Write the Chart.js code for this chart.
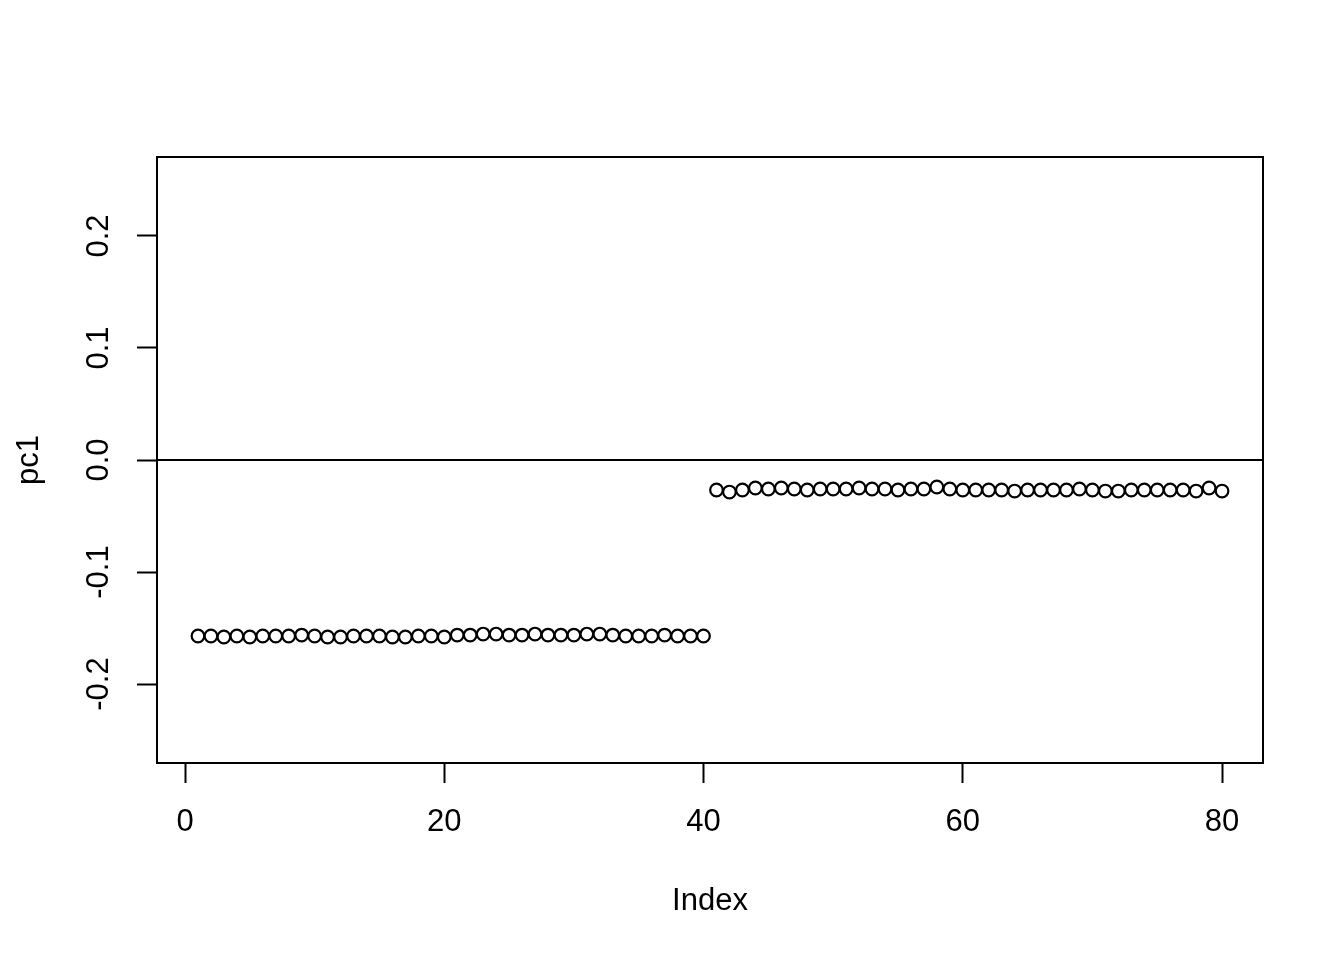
<!DOCTYPE html>
<html lang="en">
<head>
  <meta charset="UTF-8" />
  <title>pc1 by Index</title>
  <style>
    body {
      margin: 0;
      background: #ffffff;
    }

    #chart {
      position: absolute;
      top: 0;
      left: 0;
    }
  </style>
</head>
<body>
  <canvas id="chart" width="1344" height="960"></canvas>

  <script src="https://cdn.jsdelivr.net/npm/chart.js"></script>
  <script>
    const pc1First = [
      -0.1571, -0.1571, -0.1580, -0.1571, -0.1580, -0.1571, -0.1571, -0.1571, -0.1563, -0.1571,
      -0.1580, -0.1580, -0.1571, -0.1571, -0.1571, -0.1580, -0.1580, -0.1571, -0.1571, -0.1580,
      -0.1563, -0.1563, -0.1554, -0.1554, -0.1563, -0.1563, -0.1554, -0.1563, -0.1563, -0.1563,
      -0.1554, -0.1554, -0.1563, -0.1571, -0.1571, -0.1571, -0.1563, -0.1571, -0.1571, -0.1571
    ];
    const pc1Second = [
      -0.0268, -0.0286, -0.0268, -0.0250, -0.0259, -0.0250, -0.0259, -0.0268, -0.0259, -0.0259,
      -0.0259, -0.0250, -0.0259, -0.0259, -0.0268, -0.0259, -0.0259, -0.0241, -0.0259, -0.0268,
      -0.0268, -0.0268, -0.0268, -0.0277, -0.0268, -0.0268, -0.0268, -0.0268, -0.0259, -0.0268,
      -0.0277, -0.0277, -0.0268, -0.0268, -0.0268, -0.0268, -0.0268, -0.0277, -0.0250, -0.0277
    ];
    const pc1 = pc1First.concat(pc1Second);

    const xTicks = [0, 20, 40, 60, 80];
    const yTicks = [-0.2, -0.1, 0.0, 0.1, 0.2];
    const xRange = [-2.16, 83.16];
    const yRange = [-0.2705, 0.2705];
    const refLine = 0;

    const FONT = "'Liberation Sans', Arial, Helvetica, sans-serif";

    // box around the plot region + abline(h = 0)
    const framePlugin = {
      id: 'frame',
      afterDatasetsDraw(chart) {
        const { ctx, chartArea: a, scales } = chart;
        ctx.save();
        ctx.strokeStyle = '#000';
        ctx.lineWidth = 2;
        const y0 = Math.round(scales.y.getPixelForValue(refLine));
        ctx.beginPath();
        ctx.moveTo(a.left, y0);
        ctx.lineTo(a.right, y0);
        ctx.stroke();
        ctx.strokeRect(a.left, a.top, a.right - a.left, a.bottom - a.top);
        ctx.restore();
      }
    };

    new Chart(document.getElementById('chart'), {
      type: 'scatter',
      data: {
        datasets: [{
          data: pc1.map((v, i) => ({ x: i + 1, y: v })),
          pointStyle: 'circle',
          pointRadius: 6.3,
          pointBorderWidth: 2.2,
          pointBorderColor: '#000',
          pointBackgroundColor: 'rgba(0,0,0,0)',
          showLine: false
        }]
      },
      options: {
        responsive: false,
        animation: false,
        events: [],
        layout: { padding: { top: 157, right: 81, left: 0, bottom: 0 } },
        elements: {
          point: { radius: 6.3, borderWidth: 2.2, hoverRadius: 6.3 }
        },
        plugins: {
          legend: { display: false },
          tooltip: { enabled: false }
        },
        scales: {
          x: {
            type: 'linear',
            min: xRange[0],
            max: xRange[1],
            afterBuildTicks: s => { s.ticks = xTicks.map(v => ({ value: v })); },
            afterFit: s => { s.height = 197; },
            border: { display: false },
            grid: {
              drawOnChartArea: false,
              drawTicks: true,
              tickLength: 20,
              tickWidth: 2,
              tickColor: '#000'
            },
            ticks: {
              color: '#000',
              padding: 21,
              maxRotation: 0,
              font: { family: FONT, size: 31 }
            },
            title: {
              display: true,
              text: 'Index',
              color: '#000',
              padding: { top: 0, bottom: 40 },
              font: { family: FONT, size: 31 }
            }
          },
          y: {
            type: 'linear',
            min: yRange[0],
            max: yRange[1],
            afterBuildTicks: s => { s.ticks = yTicks.map(v => ({ value: v })); },
            afterFit: s => { s.width = 157; },
            border: { display: false },
            grid: {
              drawOnChartArea: false,
              drawTicks: true,
              tickLength: 20,
              tickWidth: 2,
              tickColor: '#000'
            },
            ticks: {
              color: '#000',
              padding: 11,
              minRotation: 90,
              maxRotation: 90,
              crossAlign: 'center',
              font: { family: FONT, size: 31 },
              callback: v => v.toFixed(1)
            },
            title: {
              display: true,
              text: 'pc1',
              color: '#000',
              padding: { top: 11, bottom: 0 },
              font: { family: FONT, size: 31 }
            }
          }
        }
      },
      plugins: [framePlugin]
    });
  </script>
</body>
</html>
